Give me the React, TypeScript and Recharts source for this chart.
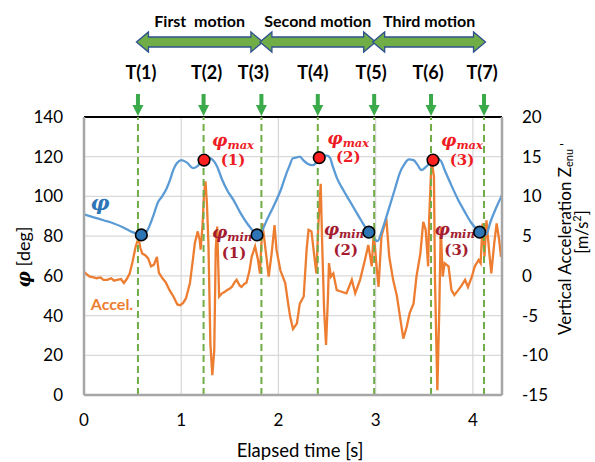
import React from 'react';
import {
  ComposedChart,
  Line,
  Scatter,
  XAxis,
  YAxis,
  CartesianGrid,
  ReferenceLine,
  ReferenceArea,
} from 'recharts';

// ---------- data ----------
const phiTime = [
  0.0, 0.1, 0.2, 0.3, 0.4, 0.5, 0.59, 0.645, 0.71, 0.76, 0.8, 0.85, 0.885, 0.92, 0.955, 1.0,
  1.06, 1.12, 1.16, 1.19, 1.235, 1.27, 1.31, 1.34, 1.37, 1.42, 1.48, 1.54, 1.6, 1.65, 1.7,
  1.75, 1.78, 1.8, 1.83, 1.88, 1.93, 1.98, 2.03, 2.07, 2.11, 2.15, 2.18, 2.22, 2.26, 2.3,
  2.35, 2.39, 2.42, 2.46, 2.5, 2.53, 2.56, 2.6, 2.67, 2.73, 2.79, 2.85, 2.9, 2.93, 2.97,
  3.0, 3.02, 3.06, 3.1, 3.15, 3.2, 3.25, 3.3, 3.34, 3.39, 3.43, 3.47, 3.52, 3.59, 3.63,
  3.67, 3.71, 3.77, 3.85, 3.92, 3.98, 4.03, 4.07, 4.11, 4.14, 4.18, 4.23, 4.27, 4.3,
];
const phiDeg = [
  91, 89.5, 88, 86.5, 84.5, 82, 80.6, 82.3, 89.8, 97, 99.8, 104, 108.3, 113.5, 116.7, 118.3,
  117, 114.3, 115, 116.5, 118.3, 119.5, 119, 117.5, 115, 108.5, 102.5, 98, 92.5, 88.5, 85,
  82, 80.6, 80, 82.5, 88, 93, 98.2, 104, 109.9, 115, 119.2, 119.5, 120, 118, 116.5,
  115.8, 117, 119.5, 120.5, 120.5, 119.5, 115, 109.5, 103, 98, 93, 88, 84, 82, 80.5,
  78, 77.5, 82, 88, 96, 104, 112, 116.5, 118.7, 118.3, 116, 113.3, 115, 118.3, 119,
  118, 113.3, 106.6, 98.2, 92, 87, 84, 82, 80.5, 81, 87, 93.2, 97.5, 100.7,
];

const accelTime = [
  0.0, 0.03, 0.06, 0.1, 0.13, 0.17, 0.2, 0.24, 0.28, 0.31, 0.34, 0.38, 0.41, 0.44, 0.47,
  0.5, 0.53, 0.56, 0.58, 0.6, 0.63, 0.66, 0.69, 0.72, 0.75, 0.77, 0.8, 0.84, 0.88, 0.92,
  0.96, 0.99, 1.02, 1.05, 1.09, 1.12, 1.14, 1.17, 1.19, 1.2, 1.22, 1.235, 1.25, 1.265,
  1.28, 1.3, 1.32, 1.34, 1.355, 1.37, 1.39, 1.42, 1.45, 1.47, 1.5, 1.52, 1.55, 1.57, 1.6,
  1.62, 1.65, 1.67, 1.7, 1.725, 1.76, 1.79, 1.81, 1.835, 1.86, 1.9, 1.93, 1.96, 1.98,
  2.02, 2.07, 2.1, 2.12, 2.15, 2.19, 2.22, 2.26, 2.29, 2.31, 2.34, 2.37, 2.39, 2.41,
  2.435, 2.45, 2.47, 2.49, 2.51, 2.52, 2.54, 2.565, 2.6, 2.65, 2.7, 2.755, 2.79, 2.84,
  2.89, 2.925, 2.96, 2.98, 3.01, 3.03, 3.06, 3.11, 3.14, 3.18, 3.22, 3.25, 3.285, 3.32,
  3.35, 3.39, 3.42, 3.46, 3.49, 3.515, 3.54, 3.55, 3.575, 3.6, 3.61, 3.635, 3.655, 3.67,
  3.69, 3.71, 3.75, 3.78, 3.81, 3.85, 3.885, 3.92, 3.95, 3.99, 4.02, 4.06, 4.08, 4.1,
  4.12, 4.14, 4.17, 4.19, 4.22, 4.245, 4.27, 4.29,
];
const accelValue = [
  0.5, 0.2, -0.1, -0.2, -0.3, -0.2, -0.5, -0.5, -0.3, -0.6, -0.5, -0.4, -0.9, -0.4, 0.3,
  1.8, 3.6, 4.8, 3.5, 2.8, 2.6, 2.2, 1.2, 1.4, 2.4, 0.4, -0.2, -0.8, -1.8, -2.6,
  -3.6, -3.7, -3.4, -2.8, -0.9, 2.0, 4.1, 5.6, 4.5, 3.3, 6.5, 10.4, 11.9, 9.0,
  4.1, -8.5, -12.5, -9.4, 3.3, 6.2, -2.6, -2.2, -2.0, -1.8, -1.6, -1.4, -0.8, -0.5, -1.2,
  -1.4, -1.0, -0.9, 0.5, 2.4, 3.7, 2.0, 0.3, 6.6, 4.1, -0.1, 2.8, 6.4, 3.3,
  0.7, -0.9, -3.5, -5.1, -6.7, -6.0, -3.5, -2.6, 3.3, 5.8, 5.6, 2.4, 0.3, 6.2,
  11.6, 4.1, -4.3, -8.7, -2.6, 1.6, -0.1, 0.3, -1.8, -2.0, -2.2, -0.5, -2.2, -0.5,
  2.0, 3.9, 1.2, 5.4, 1.2, -1.4, 5.0, 7.2, 2.4, -0.5, -2.6, -5.1, -7.9, -6.4,
  -4.7, -3.5, -0.1, 2.8, 6.8, 5.8, 1.2, 7.0, 14.6, 12.5, -0.1, -14.4, -4.3, 6.2,
  -0.1, 1.6, 1.2, -1.8, -2.4, -1.8, -1.2, -0.5, -1.4, -0.1, 1.2, 2.0, 1.6, 6.6,
  2.4, 7.0, 2.8, 0.3, 4.1, 6.6, 4.6, 2.4,
];

const eventTimes = [0.555, 1.23, 1.825, 2.405, 2.985, 3.57, 4.115];
const eventLabels = ['T(1)', 'T(2)', 'T(3)', 'T(4)', 'T(5)', 'T(6)', 'T(7)'];
const motionLabels = ['First  motion', 'Second motion', 'Third motion'];

const maxTimes = [1.235, 2.42, 3.59];
const maxValues = [118.3, 119.5, 118.3];
const maxLabels = ['(1)', '(2)', '(3)'];

const minTimes = [0.59, 1.78, 2.93, 4.07];
const minValues = [80.6, 80.6, 82, 82];
const minLabels = ['', '(1)', '(2)', '(3)'];

const xTicks = [0, 1, 2, 3, 4];
const leftTicks = [0, 20, 40, 60, 80, 100, 120, 140];
const rightTicks = [-15, -10, -5, 0, 5, 10, 15, 20];

// ---------- styles ----------
const FONT = 'Lato, "Open Sans", sans-serif';
const SERIF = '"DejaVu Serif", "Liberation Serif", serif';
const BLUE = '#5B9BD5';
const ORANGE = '#ED7D31';
const GREEN = '#70AD47';
const MAXRED = '#EE1C25';
const MINRED = '#A51C30';
const eventLabelDx = [3, 3, -8, -5, -3, -3, -2];

const phiData = phiTime.map((t, i) => ({ t, v: phiDeg[i] }));
const accelData = accelTime.map((t, i) => ({ t, v: accelValue[i] }));
const maxData = maxTimes.map((t, i) => ({ t, v: maxValues[i], lab: maxLabels[i] }));
const minData = minTimes.map((t, i) => ({ t, v: minValues[i], lab: minLabels[i] }));

const PhiSym = ({ x, y, sub, color, size = 17 }: any) => (
  <text x={x} y={y} textAnchor="middle" fill={color} fontFamily={SERIF} fontWeight={700} fontStyle="italic">
    <tspan fontSize={size}>φ</tspan>
    <tspan fontSize={11.5} dy={3}>{sub}</tspan>
  </text>
);

const MaxShape = (props: any) => {
  const { cx, cy, payload } = props;
  return (
    <g>
      <circle cx={cx} cy={cy} r={5.8} fill="#FF2020" stroke="#000" strokeWidth={1.6} />
      <PhiSym x={cx + 29} y={cy - 14} sub="max" color={MAXRED} />
      <text x={cx + 29} y={cy + 4.5} textAnchor="middle" fill={MAXRED} fontFamily={SERIF} fontWeight={700} fontSize={15}>
        {payload.lab}
      </text>
    </g>
  );
};

const MinShape = (props: any) => {
  const { cx, cy, payload } = props;
  return (
    <g>
      {payload.lab ? (
        <g>
          <PhiSym x={cx - 25} y={cy + 3} sub="min" color={MINRED} />
          <text x={cx - 23} y={cy + 23} textAnchor="middle" fill={MINRED} fontFamily={SERIF} fontWeight={700} fontSize={15}>
            {payload.lab}
          </text>
        </g>
      ) : null}
      <circle cx={cx} cy={cy} r={5.8} fill="#2E75B6" stroke="#000" strokeWidth={1.6} />
    </g>
  );
};

const eventLabel = (i: number) => (props: any) => {
  const vb = props.viewBox;
  const x = vb.x;
  const top = vb.y;
  return (
    <g>
      <text x={x + eventLabelDx[i]} y={top - 38} textAnchor="middle" fontFamily={FONT} fontWeight={700} fontSize={18} fill="#000">
        {eventLabels[i]}
      </text>
      <polygon
        points={`${x - 2},${top - 23} ${x + 2},${top - 23} ${x + 2},${top - 12} ${x + 5.5},${top - 12} ${x},${top - 1} ${x - 5.5},${top - 12} ${x - 2},${top - 12}`}
        fill="#3AAA4A"
      />
    </g>
  );
};

const motionLabel = (i: number) => (props: any) => {
  const vb = props.viewBox;
  const x1 = vb.x - 1.5;
  const x2 = vb.x + vb.width + 1.5;
  const cy = vb.y - 75;
  const hl = 12, hh = 10, sh = 5;
  const pts = [
    [x1, cy], [x1 + hl, cy - hh], [x1 + hl, cy - sh], [x2 - hl, cy - sh], [x2 - hl, cy - hh],
    [x2, cy], [x2 - hl, cy + hh], [x2 - hl, cy + sh], [x1 + hl, cy + sh], [x1 + hl, cy + hh],
  ].map((p) => p.join(',')).join(' ');
  return (
    <g>
      <polygon points={pts} fill={GREEN} stroke="#2F528F" strokeWidth={1.3} />
      <text x={(x1 + x2) / 2} y={vb.y - 90} textAnchor="middle" fontFamily={FONT} fontWeight={700} fontSize={16} fill="#000" style={{ whiteSpace: 'pre' }}>
        {motionLabels[i]}
      </text>
    </g>
  );
};

export default function App() {
  return (
    <div style={{ position: 'absolute', left: 0, top: 0, width: 595, height: 462, background: '#fff' }}>
      <ComposedChart width={595} height={462} margin={{ top: 117, right: 33, bottom: 37, left: 24 }}>
        <CartesianGrid yAxisId="left" stroke="#D9D9D9" strokeWidth={1.3} />
        <XAxis
          type="number"
          dataKey="t"
          domain={[0, 4.3]}
          ticks={xTicks}
          allowDataOverflow
          tickLine={false}
          axisLine={{ stroke: '#A6A6A6', strokeWidth: 2.5 }}
          tick={{ fill: '#000', fontSize: 17, fontFamily: FONT }}
          tickMargin={13}
          height={30}
        />
        <YAxis
          yAxisId="left"
          domain={[0, 140]}
          ticks={leftTicks}
          allowDataOverflow
          tickLine={false}
          axisLine={{ stroke: '#A6A6A6', strokeWidth: 2.5 }}
          tick={{ fill: '#000', fontSize: 17, fontFamily: FONT }}
          tickMargin={15}
          width={60}
        />
        <YAxis
          yAxisId="right"
          orientation="right"
          domain={[-15, 20]}
          ticks={rightTicks}
          allowDataOverflow
          tickLine={false}
          axisLine={{ stroke: '#A6A6A6', strokeWidth: 2.5 }}
          tick={{ fill: '#000', fontSize: 17, fontFamily: FONT, textAnchor: 'start' }}
          tickMargin={14}
          width={60}
        />
        <ReferenceLine yAxisId="left" y={140} stroke="#000" strokeWidth={2} />
        {motionLabels.map((_, i) => (
          <ReferenceArea
            key={'m' + i}
            yAxisId="left"
            x1={eventTimes[i * 2]}
            x2={eventTimes[i * 2 + 2]}
            fill="none"
            fillOpacity={0}
            strokeOpacity={0}
            label={motionLabel(i)}
          />
        ))}
        <Line
          yAxisId="right"
          data={accelData}
          dataKey="v"
          type="linear"
          stroke={ORANGE}
          strokeWidth={2.3}
          dot={false}
          isAnimationActive={false}
        />
        <Line
          yAxisId="left"
          data={phiData}
          dataKey="v"
          type="monotone"
          stroke={BLUE}
          strokeWidth={2.3}
          dot={false}
          isAnimationActive={false}
        />
        {eventTimes.map((t, i) => (
          <ReferenceLine
            key={'e' + i}
            yAxisId="left"
            x={t}
            stroke={GREEN}
            strokeWidth={2}
            strokeDasharray="7 4"
            label={eventLabel(i)}
          />
        ))}
        <Scatter yAxisId="left" data={minData} dataKey="v" shape={MinShape} isAnimationActive={false} />
        <Scatter yAxisId="left" data={maxData} dataKey="v" shape={MaxShape} isAnimationActive={false} />
      </ComposedChart>
      <svg width={595} height={462} style={{ position: 'absolute', left: 0, top: 0, pointerEvents: 'none' }}>
        {/* in-plot series labels */}
        <text x={100} y={210} textAnchor="middle" fill="#2E75B6" fontFamily={SERIF} fontWeight={700} fontStyle="italic" fontSize={21}>φ</text>
        <text x={112} y={310} textAnchor="middle" fill={ORANGE} fontFamily={FONT} fontWeight={700} fontSize={16}>Accel.</text>
        {/* x axis title */}
        <text x={300} y={457} textAnchor="middle" fontFamily={FONT} fontSize={18.5} fill="#000">Elapsed time [s]</text>
        {/* left axis title */}
        <text x={30} y={257} transform="rotate(-90 30 257)" textAnchor="middle" fontFamily={FONT} fontSize={18} fill="#000">
          <tspan fontFamily={SERIF} fontWeight={700} fontStyle="italic">φ</tspan>
          <tspan> [deg]</tspan>
        </text>
        {/* right axis title */}
        <text x={571} y={335} transform="rotate(-90 571 335)" textAnchor="start" fontFamily={FONT} fontSize={17} fill="#000">
          Vertical Acceleration Z
          <tspan fontSize={11} dy={2}>enu</tspan>
          <tspan fontSize={14} dx={3} dy={-3}>'</tspan>
        </text>
        <text x={588} y={232} transform="rotate(-90 588 232)" textAnchor="middle" fontFamily={FONT} fontSize={16.5} fill="#000">
          [m/s<tspan fontSize={11} dy={-7}>2</tspan><tspan dy={7}>]</tspan>
        </text>
      </svg>
    </div>
  );
}
